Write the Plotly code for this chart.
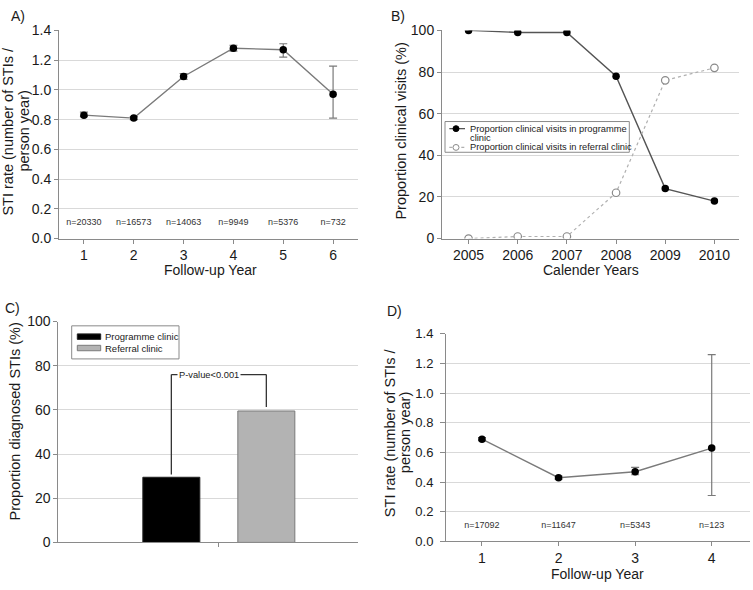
import plotly.graph_objects as go

W, H = 753, 590

# ---------------- data ----------------
# Panel A
years_a = [1, 2, 3, 4, 5, 6]
rate_a = [0.83, 0.81, 1.09, 1.28, 1.27, 0.97]
upper_a = [0.85, 0.82, 1.11, 1.30, 1.31, 1.16]
lower_a = [0.82, 0.80, 1.07, 1.26, 1.22, 0.81]
n_a = ["n=20330", "n=16573", "n=14063", "n=9949", "n=5376", "n=732"]

# Panel B
years_b = [2005, 2006, 2007, 2008, 2009, 2010]
programme_b = [100, 99, 99, 78, 24, 18]
referral_b = [0, 1, 1, 22, 76, 82]
names_b = ["Proportion clinical visits in programme<br>clinic",
           "Proportion clinical visits in referral clinic"]

# Panel C
group_c = ["STIs"]
names_c = ["Programme clinic", "Referral clinic"]
programme_c = [29.5]
referral_c = [59.5]
pvalue_c = "P-value<0.001"

# Panel D
years_d = [1, 2, 3, 4]
rate_d = [0.69, 0.43, 0.47, 0.63]
upper_d = [0.70, 0.44, 0.50, 1.26]
lower_d = [0.68, 0.42, 0.45, 0.31]
n_d = ["n=17092", "n=11647", "n=5343", "n=123"]

# titles
rate_title = ["STI rate (number of STIs /", "person year)"]

# ---------------- helpers / style ----------------
FONT = "Liberation Sans, Arial, sans-serif"
TXT = "#1a1a1a"
GRID = "#d9d9d9"
AXIS = "#8a8a8a"
N_LABEL_Y = 0.105
BARGAP, BARGROUPGAP = 0.2, 0.4


def px(x):
    return x / W


def py(y):
    return 1 - y / H


def err(vals, up, lo):
    return ([round(u - v, 4) for u, v in zip(up, vals)],
            [round(v - l, 4) for v, l in zip(vals, lo)])


fig = go.Figure()

# Panel A
ea_p, ea_m = err(rate_a, upper_a, lower_a)
fig.add_trace(go.Scatter(
    x=years_a, y=rate_a, mode="lines+markers", xaxis="x", yaxis="y",
    line=dict(color="#7a7a7a", width=1.4),
    marker=dict(color="black", size=7.5),
    error_y=dict(type="data", symmetric=False, array=ea_p, arrayminus=ea_m,
                 color="#7a7a7a", thickness=1.2, width=4),
    showlegend=False))
fig.add_trace(go.Scatter(
    x=years_a, y=[N_LABEL_Y] * len(years_a), mode="text", text=n_a,
    xaxis="x", yaxis="y", textfont=dict(size=9, color="#333", family=FONT),
    showlegend=False, hoverinfo="skip"))

# Panel B
fig.add_trace(go.Scatter(
    x=years_b, y=programme_b, mode="lines+markers", xaxis="x2", yaxis="y2",
    name=names_b[0], line=dict(color="#555555", width=1.4),
    marker=dict(color="black", size=7.5), showlegend=False))
fig.add_trace(go.Scatter(
    x=years_b, y=referral_b, mode="lines+markers", xaxis="x2", yaxis="y2",
    name=names_b[1], line=dict(color="#b0b0b0", width=1.2, dash="dot"),
    marker=dict(color="white", size=7.5, line=dict(color="#8a8a8a", width=1.2)),
    showlegend=False))

# Panel C
fig.add_trace(go.Bar(
    x=group_c, y=programme_c, name=names_c[0], xaxis="x3", yaxis="y3",
    marker=dict(color="black", line=dict(color="#222", width=1)),
    showlegend=False))
fig.add_trace(go.Bar(
    x=group_c, y=referral_c, name=names_c[1], xaxis="x3", yaxis="y3",
    marker=dict(color="#b3b3b3", line=dict(color="#7a7a7a", width=1)),
    showlegend=False))

# Panel D
ed_p, ed_m = err(rate_d, upper_d, lower_d)
fig.add_trace(go.Scatter(
    x=years_d, y=rate_d, mode="lines+markers", xaxis="x4", yaxis="y4",
    line=dict(color="#7a7a7a", width=1.4),
    marker=dict(color="black", size=7.5),
    error_y=dict(type="data", symmetric=False, array=ed_p, arrayminus=ed_m,
                 color="#7a7a7a", thickness=1.2, width=4),
    showlegend=False))
fig.add_trace(go.Scatter(
    x=years_d, y=[N_LABEL_Y] * len(years_d), mode="text", text=n_d,
    xaxis="x4", yaxis="y4", textfont=dict(size=9, color="#333", family=FONT),
    showlegend=False, hoverinfo="skip"))

# ---------------- axes ----------------
common_x = dict(showgrid=False, showline=True, linecolor=AXIS, linewidth=1,
                ticks="outside", ticklen=4, tickcolor=AXIS, zeroline=False,
                tickfont=dict(size=14, color=TXT, family=FONT))
common_y = dict(showgrid=True, gridcolor=GRID, gridwidth=1, showline=True,
                linecolor=AXIS, linewidth=1, ticks="outside", ticklen=4,
                tickcolor=AXIS, zeroline=False,
                tickfont=dict(size=14, color=TXT, family=FONT))

layout_axes = dict(
    xaxis=dict(common_x, domain=[px(59), px(358)], range=[0.5, 6.5],
               tickvals=years_a, anchor="y"),
    yaxis=dict(common_y, domain=[py(237), py(23)], range=[0, 1.4],
               dtick=0.2, tickformat=".1f", anchor="x"),
    xaxis2=dict(common_x, domain=[px(442), px(739)], range=[2004.46, 2010.5],
                tickvals=years_b, anchor="y2"),
    yaxis2=dict(common_y, domain=[py(237), py(23)], range=[0, 100],
                dtick=20, anchor="x2"),
    xaxis3=dict(common_x, domain=[px(58.3), px(358)], type="category",
                range=[-0.676, 0.586], showticklabels=False, anchor="y3"),
    yaxis3=dict(common_y, domain=[py(549.3), py(322.3)], range=[0, 100],
                dtick=20, anchor="x3"),
    xaxis4=dict(common_x, domain=[px(446), px(750)], range=[0.53, 4.5],
                tickvals=years_d, anchor="y4"),
    yaxis4=dict(common_y, domain=[py(548.3), py(335)], range=[0, 1.4],
                dtick=0.2, tickformat=".1f", anchor="x4", ticklen=5,
                ticklabelstandoff=4,
                tickfont=dict(size=13, color=TXT, family=FONT)),
)

# ---------------- annotations ----------------
ann = []


def text_at(x, y, s, size=14, angle=0, xanchor="center"):
    ann.append(dict(x=px(x), y=py(y), xref="paper", yref="paper", text=s,
                    showarrow=False, textangle=angle, xanchor=xanchor,
                    yanchor="middle",
                    font=dict(size=size, color=TXT, family=FONT)))


# panel labels
text_at(17.5, 8, "A)")
text_at(397.5, 8, "B)")
text_at(12, 308, "C)")
text_at(394.5, 311, "D)")
# axis titles
text_at(211, 269, "Follow-up Year")
text_at(591, 269, "Calender Years")
text_at(597.7, 582, "Follow-up Year")
text_at(8, 127, rate_title[0], size=14.5, angle=-90)
text_at(24, 127, rate_title[1], size=14.5, angle=-90)
text_at(401, 127, "Proportion clinical visits (%)", size=14.5, angle=-90)
text_at(15, 425, "Proportion diagnosed STIs (%)", size=14.5, angle=-90)
text_at(390, 437, rate_title[0], size=14.5, angle=-90)
text_at(405, 437, rate_title[1], size=14.5, angle=-90)

shapes = []


def rect(x0, y0, x1, y1, fill="white", line="#8a8a8a", width=1):
    shapes.append(dict(type="rect", xref="paper", yref="paper",
                       x0=px(x0), x1=px(x1), y0=py(y1), y1=py(y0),
                       fillcolor=fill, line=dict(color=line, width=width)))


# ---- legend panel B ----
rect(445, 116.7, 629.3, 148.3)
rows_b = [124, 143.3]
styles_b = [dict(lc="#555555", dash="solid", fill="black", mc="black"),
            dict(lc="#b0b0b0", dash="dot", fill="white", mc="#8a8a8a")]
for i, (yy, st) in enumerate(zip(rows_b, styles_b)):
    shapes.append(dict(type="line", xref="paper", yref="paper",
                       x0=px(449.3), x1=px(465), y0=py(yy), y1=py(yy),
                       line=dict(color=st["lc"], width=1.3, dash=st["dash"])))
    shapes.append(dict(type="circle", xref="paper", yref="paper",
                       x0=px(453), x1=px(459), y0=py(yy + 3), y1=py(yy - 3),
                       fillcolor=st["fill"], line=dict(color=st["mc"], width=1)))
    for j, line_txt in enumerate(names_b[i].split("<br>")):
        text_at(468.3, yy + j * 9.6, line_txt, size=9.3, xanchor="left")

# ---- legend panel C ----
rect(71.7, 326.7, 179, 360.7)
rows_c = [337.8, 349.5]
fills_c = [("black", "#222"), ("#b3b3b3", "#7a7a7a")]
for yy, (fc, lc), label in zip(rows_c, fills_c, names_c):
    rect(77.3, yy - 2.8, 100.7, yy + 2.8, fill=fc, line=lc)
    text_at(103.3, yy, label, size=9.5, xanchor="left")

# ---- p-value bracket panel C ----
half = (1 - BARGAP) / 4
top = 76
for x0, y0, x1, y1 in [(-half, programme_c[0] + 1.2, -half, top),
                       (-half, top, half, top),
                       (half, top, half, referral_c[0] + 1.8)]:
    shapes.append(dict(type="line", xref="x3", yref="y3", x0=x0, x1=x1,
                       y0=y0, y1=y1, line=dict(color="#333", width=1.3)))
ann.append(dict(x=-0.04, y=top, xref="x3", yref="y3", text=pvalue_c,
                showarrow=False, bgcolor="white", borderpad=1,
                font=dict(size=9.3, color=TXT, family=FONT)))

fig.update_layout(
    width=W, height=H, margin=dict(l=0, r=0, t=0, b=0),
    paper_bgcolor="white", plot_bgcolor="white",
    barmode="group", bargap=BARGAP, bargroupgap=BARGROUPGAP,
    font=dict(family=FONT, color=TXT),
    annotations=ann, shapes=shapes, showlegend=False,
    **layout_axes)

fig.write_html(
    "out.html",
    config={"displayModeBar": False},
    post_script="document.body.style.margin='0';"
                "document.body.style.overflow='hidden';")
